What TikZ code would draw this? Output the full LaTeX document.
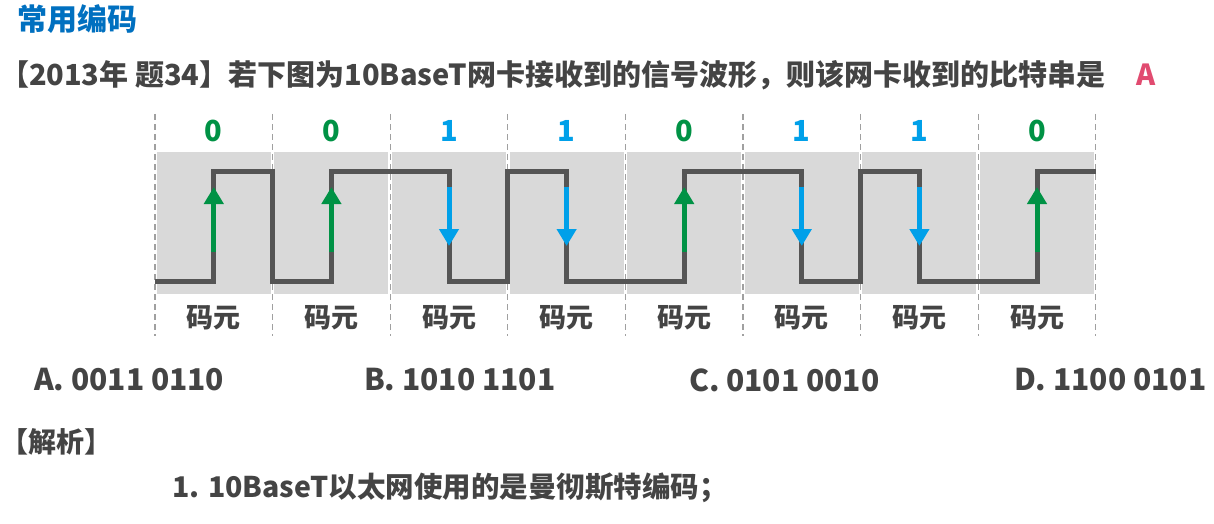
\documentclass[tikz,border=0pt]{standalone}
\usepackage{fontspec}
\setmainfont{Noto Sans CJK SC}
\usetikzlibrary{arrows.meta}
\definecolor{txt}{RGB}{68,68,68}
\definecolor{ttl}{RGB}{0,112,192}
\definecolor{cellgray}{RGB}{217,217,217}
\definecolor{wave}{RGB}{85,85,85}
\definecolor{zgreen}{RGB}{0,146,69}
\definecolor{oblue}{RGB}{0,160,233}
\definecolor{ansred}{RGB}{225,75,112}
\definecolor{dashc}{RGB}{160,160,160}
\tikzset{
  fs/.style={font=\fontsize{#1}{#1}\selectfont\bfseries},
  plain/.style={inner sep=0pt, outer sep=0pt, text=txt},
  cellbox/.style={fill=cellgray, draw=none},
  divider/.style={draw=dashc, line width=1.3pt, dash pattern=on 6pt off 4pt},
  wavestyle/.style={draw=wave, line width=5pt, line join=miter},
  uparr/.style={draw=zgreen, line width=5pt, -{Triangle[width=19pt,length=17pt]}},
  downarr/.style={draw=oblue, line width=5pt, -{Triangle[width=19pt,length=17pt]}},
  bitlbl/.style={plain, fs=29},
  cellname/.style={plain, fs=27},
}
\begin{document}
\begin{tikzpicture}[x=1pt,y=-1pt]
\useasboundingbox (0,0) rectangle (1214,524);
\fill[white] (0,0) rectangle (1214,524);
% title and question
\node[plain, anchor=west, fs=30, text=ttl] (title) at (17,19) {常用编码};
\node[plain, anchor=west, fs=29] (question) at (0,75) {【2013年 题34】若下图为10BaseT网卡接收到的信号波形，则该网卡收到的比特串是};
\node[plain, anchor=center, fs=29, text=ansred] (answer) at (1146,75) {A};
% cells
\foreach \i in {0,...,7} {
  \pgfmathsetmacro{\xa}{155+117.6*\i+1.8}
  \pgfmathsetmacro{\xb}{155+117.6*(\i+1)-1.8}
  \fill[cellbox] (\xa,152) rectangle (\xb,294);
}
\foreach \i in {0,...,8} {
  \pgfmathsetmacro{\xd}{155+117.6*\i}
  \coordinate (dt\i) at (\xd,114);
  \coordinate (db\i) at (\xd,336);
  \draw[divider] (dt\i) -- (db\i);
}
% mid positions
\foreach \i in {0,...,7} {
  \pgfmathsetmacro{\xm}{155+117.6*\i+58.8}
  \coordinate (m\i) at (\xm,0);
}
\foreach \i in {0,...,8} {
  \pgfmathsetmacro{\xd}{155+117.6*\i}
  \coordinate (d\i) at (\xd,0);
}
% wave
\draw[wavestyle] (d0|-0,281) -- (m0|-0,281) -- (m0|-0,171) -- (d1|-0,171) -- (d1|-0,281)
  -- (m1|-0,281) -- (m1|-0,171) -- (m2|-0,171) -- (m2|-0,281) -- (d3|-0,281) -- (d3|-0,171)
  -- (m3|-0,171) -- (m3|-0,281) -- (m4|-0,281) -- (m4|-0,171) -- (m5|-0,171) -- (m5|-0,281)
  -- (d6|-0,281) -- (d6|-0,171) -- (m6|-0,171) -- (m6|-0,281) -- (m7|-0,281) -- (m7|-0,171)
  -- (d8|-0,171);
% arrows and labels
\foreach \i/\b in {0/0,1/0,2/1,3/1,4/0,5/1,6/1,7/0} {
  \ifnum\b=0
    \draw[uparr] (m\i|-0,252) -- (m\i|-0,187);
    \node[bitlbl, text=zgreen] (bit\i) at (m\i|-0,131) {0};
  \else
    \draw[downarr] (m\i|-0,187) -- (m\i|-0,246);
    \node[bitlbl, text=oblue] (bit\i) at (m\i|-0,131) {1};
  \fi
  \node[cellname] (cn\i) at (m\i|-0,318) {码元};
}
% options
\node[plain, anchor=west, fs=30] (optA) at (34,380) {A. 0011 0110};
\node[plain, anchor=west, fs=30] (optB) at (364,380) {B. 1010 1101};
\node[plain, anchor=west, fs=30] (optC) at (689,380) {C. 0101 0010};
\node[plain, anchor=west, fs=30] (optD) at (1014,380) {D. 1100 0101};
% analysis
\node[plain, anchor=west, fs=28] (jiexi) at (0,442) {【解析】};
\node[plain, anchor=west, fs=28.5] (pt1) at (172,488) {1. 10BaseT以太网使用的是曼彻斯特编码；};
\end{tikzpicture}
\end{document}
